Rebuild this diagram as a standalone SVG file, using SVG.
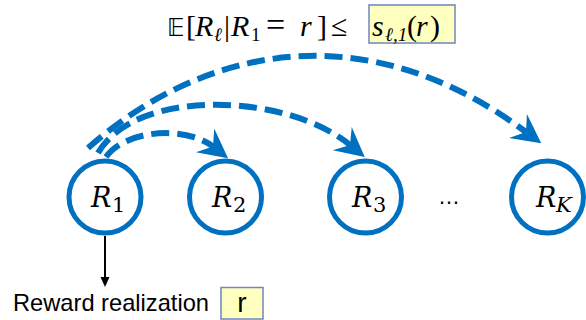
<svg xmlns="http://www.w3.org/2000/svg" width="586" height="320" viewBox="0 0 586 320">
<style>
.node{fill:#fff;stroke:#0070C0;stroke-width:5}
.lbl{font-family:"DejaVu Serif",serif;font-style:italic;font-size:27px;fill:#000}
.sub{font-family:"DejaVu Serif",serif;font-size:21px;fill:#000}
.subi{font-family:"DejaVu Serif",serif;font-style:italic;font-size:21px;fill:#000}
.dash{fill:none;stroke:#0070C0;stroke-width:6;stroke-dasharray:18 8}
.m{font-family:"Liberation Serif",serif;font-size:30px;fill:#000}
.mi{font-family:"Liberation Serif",serif;font-style:italic;font-size:30px;fill:#000}
.ms{font-family:"Liberation Serif",serif;font-size:19px;fill:#000}
.msi{font-family:"Liberation Serif",serif;font-style:italic;font-size:19px;fill:#000}
.box{fill:#FFFFBF;stroke:#6F87BF;stroke-width:1.5}
.sans{font-family:"Liberation Sans",Arial,sans-serif;fill:#000}
</style>
<defs>
<marker id="ah" markerUnits="userSpaceOnUse" markerWidth="40" markerHeight="40" viewBox="-15 -20 40 40" refX="0" refY="0" orient="auto">
<path d="M19,0 L-10,-15 L0,0 L-10,15 Z" fill="#0070C0"/>
</marker>
<marker id="bh" markerUnits="userSpaceOnUse" markerWidth="12" markerHeight="14" viewBox="-6 -7 12 14" refX="0" refY="0" orient="auto">
<path d="M4,0 L-6,-4.5 L-6,4.5 Z" fill="#000"/>
</marker>
</defs>

<g id="title">
<text x="167" y="36" style="font-family:'DejaVu Sans',sans-serif;font-size:24px;fill:#000">𝔼</text>
<text class="m" x="186" y="36">[</text>
<text class="mi" x="195" y="36">R</text>
<text class="msi" x="214" y="41">ℓ</text>
<text class="m" x="224" y="36">|</text>
<text class="mi" x="231" y="36">R</text>
<text class="ms" x="251" y="41">1</text>
<text class="m" x="266" y="36" style="font-size:34px">=</text>
<text class="mi" x="300" y="36">r</text>
<text class="m" x="317" y="36">]</text>
<text class="m" x="331" y="36">≤</text>
<rect class="box" x="369" y="5" width="86" height="38"/>
<text class="mi" x="372" y="36">s</text>
<text class="msi" x="385" y="41">ℓ<tspan class="ms">,1</tspan></text>
<text class="m" x="407" y="36">(</text>
<text class="mi" x="416" y="36">r</text>
<text class="m" x="430" y="36">)</text>
</g>

<g id="connectors">
<path class="dash" d="M106,157 C125,130 185,125 213,146.6" marker-end="url(#ah)"/>
<path class="dash" d="M98,153 C135,88 285,92 350,145" marker-end="url(#ah)"/>
<path class="dash" d="M88,148 C200,49 362,10 526,132" marker-end="url(#ah)"/>
<path d="M105,236 L105,283" stroke="#000" stroke-width="2" fill="none" marker-end="url(#bh)"/>
</g>

<g id="R1">
<circle class="node" cx="105" cy="197" r="36"/>
<text class="lbl" x="91" y="207">R</text><text class="sub" x="112" y="212">1</text>
</g>
<g id="R2">
<circle class="node" cx="225.5" cy="197" r="36"/>
<text class="lbl" x="212" y="207">R</text><text class="sub" x="233" y="212">2</text>
</g>
<g id="R3">
<circle class="node" cx="365.5" cy="197" r="36"/>
<text class="lbl" x="352" y="207">R</text><text class="sub" x="373" y="212">3</text>
</g>
<g id="dots">
<text class="sans" x="449" y="204" font-size="22" text-anchor="middle">…</text>
</g>
<g id="RK">
<circle class="node" cx="547.5" cy="197" r="36"/>
<text class="lbl" x="536" y="207">R</text><text class="subi" x="556" y="212">K</text>
</g>

<g id="reward">
<text class="sans" x="13" y="311" font-size="24" textLength="196" lengthAdjust="spacingAndGlyphs">Reward realization</text>
<rect class="box" x="221" y="287.5" width="42" height="31.5"/>
<text class="sans" x="242" y="312" font-size="28" text-anchor="middle">r</text>
</g>
</svg>
